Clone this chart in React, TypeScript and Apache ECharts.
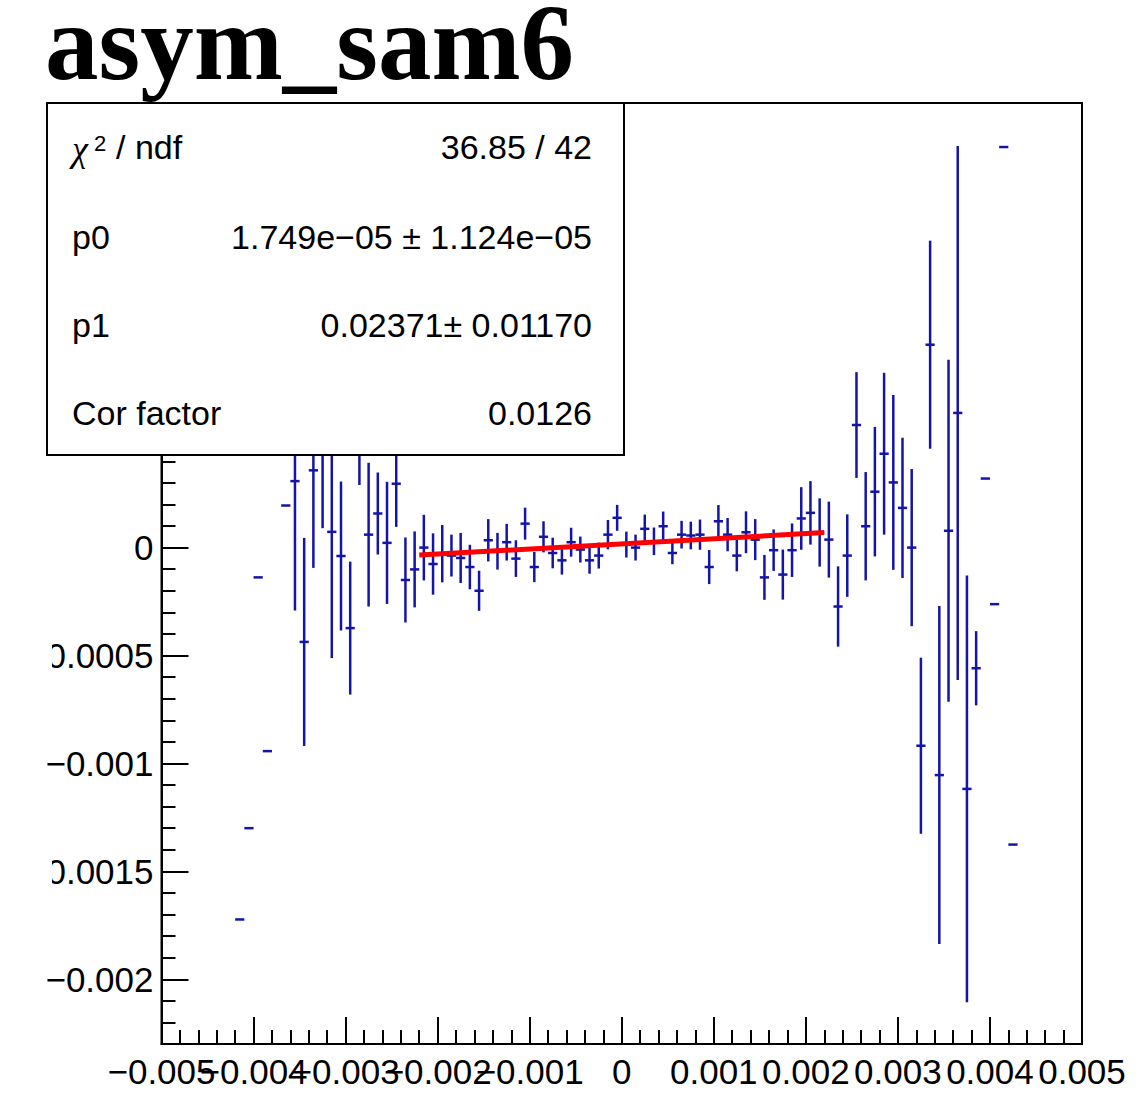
import React, { useEffect, useRef } from "react";
import * as echarts from "echarts";

// ---- data ----
const binWidth = 0.0001;
const binX = [
  -0.00415, -0.00405, -0.00395, -0.00385, -0.00365, -0.00355, -0.00345, -0.00335, -0.00325, -0.00315,
  -0.00305, -0.00295, -0.00285, -0.00275, -0.00265, -0.00255, -0.00245, -0.00235, -0.00225, -0.00215,
  -0.00205, -0.00195, -0.00185, -0.00175, -0.00165, -0.00155, -0.00145, -0.00135, -0.00125, -0.00115,
  -0.00105, -0.00095, -0.00085, -0.00075, -0.00065, -0.00055, -0.00045, -0.00035, -0.00025, -0.00015,
  -0.00005, 0.00005, 0.00015, 0.00025, 0.00035, 0.00045, 0.00055, 0.00065, 0.00075, 0.00085,
  0.00095, 0.00105, 0.00115, 0.00125, 0.00135, 0.00145, 0.00155, 0.00165, 0.00175, 0.00185,
  0.00195, 0.00205, 0.00215, 0.00225, 0.00235, 0.00245, 0.00255, 0.00265, 0.00275, 0.00285,
  0.00295, 0.00305, 0.00315, 0.00325, 0.00335, 0.00345, 0.00355, 0.00365, 0.00375, 0.00385,
  0.00395, 0.00405, 0.00415, 0.00425,
];
const binY = [
  -0.001723, -0.0013, -0.000138, -0.000943, 0.000195, 0.000308, -0.000437, 0.000358, 0.00057, 0.000073,
  -0.000039, -0.000373, 0.00059, 0.00006, 0.000158, 0.000022, 0.000296, -0.00015, -0.000101, 0.0,
  -0.000076, -0.000028, -0.000037, -0.000048, -0.00009, -0.0002, 0.000034, -0.000017, 0.000025, -0.000051,
  0.000111, -0.00009, 0.00005, -0.000025, -0.000059, 0.000025, -0.000009, -0.000059, -0.000037, 0.00006,
  0.000138, 0.000014, 0.0, 0.000087, 0.000029, 0.000099, -0.000025, 0.00006, 0.000056, 0.00006,
  -0.00009, 0.000122, 0.00006, -0.000037, 0.000071, 0.000037, -0.000138, -0.000012, -0.000125, -0.000012,
  0.000135, 0.000161, 0.00007, 0.000037, -0.000273, -0.000037, 0.000568, 0.000099, 0.000259, 0.000435,
  0.000302, 0.000184, 0.0, -0.000918, 0.00094, -0.001054, 0.000078, 0.000624, -0.001118, -0.000559,
  0.00032, -0.000262, 0.001856, -0.001376,
];
const binErr = [
  0, 0, 0, 0, 0, 0.0006, 0.000482, 0.000452, 0.00048, 0.000585,
  0.000345, 0.000308, 0.0003, 0.000333, 0.00019, 0.000283, 0.0002, 0.000197, 0.000176, 0.000152,
  0.000142, 0.000133, 0.000097, 0.000116, 0.000103, 0.000093, 0.000098, 0.000085, 0.000085, 0.000085,
  0.000074, 0.00007, 0.000072, 0.000071, 0.000066, 0.000067, 0.00006, 0.000062, 0.00006, 0.000068,
  0.00006, 0.00006, 0.00006, 0.000066, 0.000064, 0.000068, 0.000052, 0.000064, 0.000064, 0.00007,
  0.000079, 0.000075, 0.000077, 0.000073, 0.000097, 0.000095, 0.000104, 0.000096, 0.000116, 0.000124,
  0.000145, 0.000147, 0.000158, 0.000176, 0.000186, 0.000191, 0.000245, 0.000251, 0.0003, 0.000375,
  0.000405, 0.000325, 0.000364, 0.000408, 0.000482, 0.000783, 0.000792, 0.001237, 0.000989, 0.000172,
  0, 0, 0, 0,
];

// fit (pol1) parameters and range
const fitP0 = 1.749e-5;
const fitP1 = 0.02371;
const fitRange = [-0.0022, 0.0022];

// axes
const xMin = -0.005;
const xMax = 0.005;
const xInterval = 0.001;
const xLabelsMain = [-0.005, -0.003, -0.002, -0.001, 0, 0.001, 0.002, 0.003, 0.004, 0.005];
const xLabelsExtra = [-0.004];
const yMin = -0.0023;
const yMax = 0.00206;
const yMajorTicks = [-0.002, -0.0015, -0.001, -0.0005, 0, 0.0005, 0.001, 0.0015, 0.002];
const yMinorStep = 0.0001;

// stats box texts
const statLabels = ["p0", "p1", "Cor factor"];
const statValues = ["36.85 / 42", "1.749e\u221205 \u00b1 1.124e\u221205", "0.02371\u00b1 0.01170", "0.0126"];
const titleText = "asym_sam6";

const fmt = (v: number) => {
  const r = Number(v.toFixed(6));
  if (r === 0) return "0";
  return r < 0 ? "\u2212" + String(-r) : String(r);
};

export default function App() {
  const ref = useRef<HTMLDivElement>(null);
  useEffect(() => {
    if (!ref.current) return;
    const chart = echarts.init(ref.current, null, { renderer: "svg" });
    const data = binX.map((x, i) => [x, binY[i], binErr[i]]);
    const minor: number[] = [];
    for (let k = Math.ceil(yMin / yMinorStep); k * yMinorStep <= yMax; k++) {
      minor.push(Number((k * yMinorStep).toFixed(6)));
    }
    const fitData = fitRange.map((x) => [x, fitP0 + fitP1 * x]);
    const font = "Liberation Sans";
    const blue = "#1414a8";
    const rowsY = [147, 237, 325, 413];
    const xLabelStyle = {
      show: true,
      interval: 0,
      hideOverlap: false,
      margin: 10,
      color: "#000",
      fontFamily: font,
      fontSize: 35,
      showMinLabel: true,
      showMaxLabel: true,
      formatter: (v: number) => fmt(v),
    };

    const option: any = {
      animation: false,
      backgroundColor: "#ffffff",
      grid: {
        left: 161.5,
        right: 57,
        top: 103,
        bottom: 61,
        show: true,
        borderColor: "#000",
        borderWidth: 2,
        backgroundColor: "transparent",
      },
      xAxis: [
        {
          type: "value",
          min: xMin,
          max: xMax,
          interval: xInterval,
          axisLine: { show: true, onZero: false, lineStyle: { color: "#000", width: 2 } },
          axisTick: { show: true, inside: true, length: 27, lineStyle: { color: "#000", width: 2 } },
          minorTick: { show: true, splitNumber: 5, length: 14, lineStyle: { color: "#000", width: 2 } },
          splitLine: { show: false },
          minorSplitLine: { show: false },
          axisLabel: { ...xLabelStyle, customValues: xLabelsMain },
        },
        {
          type: "value",
          min: xMin,
          max: xMax,
          position: "bottom",
          offset: 0,
          axisLine: { show: false, onZero: false },
          axisTick: { show: false },
          splitLine: { show: false },
          axisLabel: { ...xLabelStyle, customValues: xLabelsExtra },
        },
      ],
      yAxis: [
        {
          type: "value",
          min: yMin,
          max: yMax,
          position: "left",
          axisLine: { show: true, onZero: false, lineStyle: { color: "#000", width: 2 } },
          axisTick: {
            show: true,
            inside: true,
            length: 27,
            customValues: yMajorTicks,
            lineStyle: { color: "#000", width: 2 },
          },
          splitLine: { show: false },
          axisLabel: {
            show: true,
            margin: 8,
            color: "#000",
            fontFamily: font,
            fontSize: 35,
            customValues: yMajorTicks,
            formatter: (v: number) => fmt(v),
          },
        },
        {
          type: "value",
          min: yMin,
          max: yMax,
          position: "left",
          offset: 0,
          axisLine: { show: false, onZero: false },
          axisTick: {
            show: true,
            inside: true,
            length: 14,
            customValues: minor,
            lineStyle: { color: "#000", width: 2 },
          },
          splitLine: { show: false },
          axisLabel: { show: false },
        },
      ],
      series: [
        {
          type: "custom",
          clip: true,
          data,
          encode: { x: 0, y: 1 },
          z: 2,
          renderItem: (params: any, api: any) => {
            const x = api.value(0);
            const y = api.value(1);
            const e = api.value(2);
            const c = api.coord([x, y]);
            const l = api.coord([x - binWidth / 2, y]);
            const r = api.coord([x + binWidth / 2, y]);
            const style = { stroke: blue, lineWidth: 2.5 };
            const children: any[] = [
              { type: "line", shape: { x1: l[0], y1: c[1], x2: r[0], y2: c[1] }, style },
            ];
            if (e > 0) {
              const t = api.coord([x, y + e]);
              const b = api.coord([x, y - e]);
              children.push({ type: "line", shape: { x1: c[0], y1: t[1], x2: c[0], y2: b[1] }, style });
            }
            return { type: "group", children };
          },
        },
        {
          type: "line",
          data: fitData,
          showSymbol: false,
          symbol: "none",
          z: 5,
          lineStyle: { color: "#ff0000", width: 5 },
        },
      ],
      graphic: [
        {
          type: "text",
          x: 45,
          y: -11,
          z: 100,
          style: {
            text: titleText,
            fontFamily: "Liberation Serif",
            fontWeight: "bold",
            fontSize: 107,
            fill: "#000",
          },
        },
        {
          type: "rect",
          z: 100,
          shape: { x: 47, y: 103, width: 577, height: 352 },
          style: { fill: "#fff", stroke: "#000", lineWidth: 2 },
        },
        {
          type: "text",
          z: 101,
          x: 72,
          y: rowsY[0] + 2,
          style: {
            text: "\u03c7",
            fontFamily: "Liberation Serif",
            fontStyle: "italic",
            fontSize: 36,
            fill: "#000",
            verticalAlign: "middle",
          },
        },
        {
          type: "text",
          z: 101,
          x: 94,
          y: rowsY[0] - 4,
          style: { text: "2", fontFamily: font, fontSize: 22, fill: "#000", verticalAlign: "middle" },
        },
        {
          type: "text",
          z: 101,
          x: 116,
          y: rowsY[0],
          style: { text: "/ ndf", fontFamily: font, fontSize: 34, fill: "#000", verticalAlign: "middle" },
        },
        ...statLabels.map((t, i) => ({
          type: "text",
          z: 101,
          x: 72,
          y: rowsY[i + 1],
          style: { text: t, fontFamily: font, fontSize: 34, fill: "#000", verticalAlign: "middle" },
        })),
        ...statValues.map((t, i) => ({
          type: "text",
          z: 101,
          x: 592,
          y: rowsY[i],
          style: {
            text: t,
            fontFamily: font,
            fontSize: 34,
            fill: "#000",
            align: "right",
            verticalAlign: "middle",
          },
        })),
        {
          type: "rect",
          z: 100,
          shape: { x: 0, y: 638, width: 52, height: 40 },
          style: { fill: "#fff" },
        },
        {
          type: "rect",
          z: 100,
          shape: { x: 0, y: 853, width: 52, height: 40 },
          style: { fill: "#fff" },
        },
      ],
    };
    chart.setOption(option);
    return () => chart.dispose();
  }, []);
  return (
    <div
      ref={ref}
      style={{ position: "absolute", left: 0, top: 0, width: 1139, height: 1105, background: "#fff" }}
    />
  );
}
